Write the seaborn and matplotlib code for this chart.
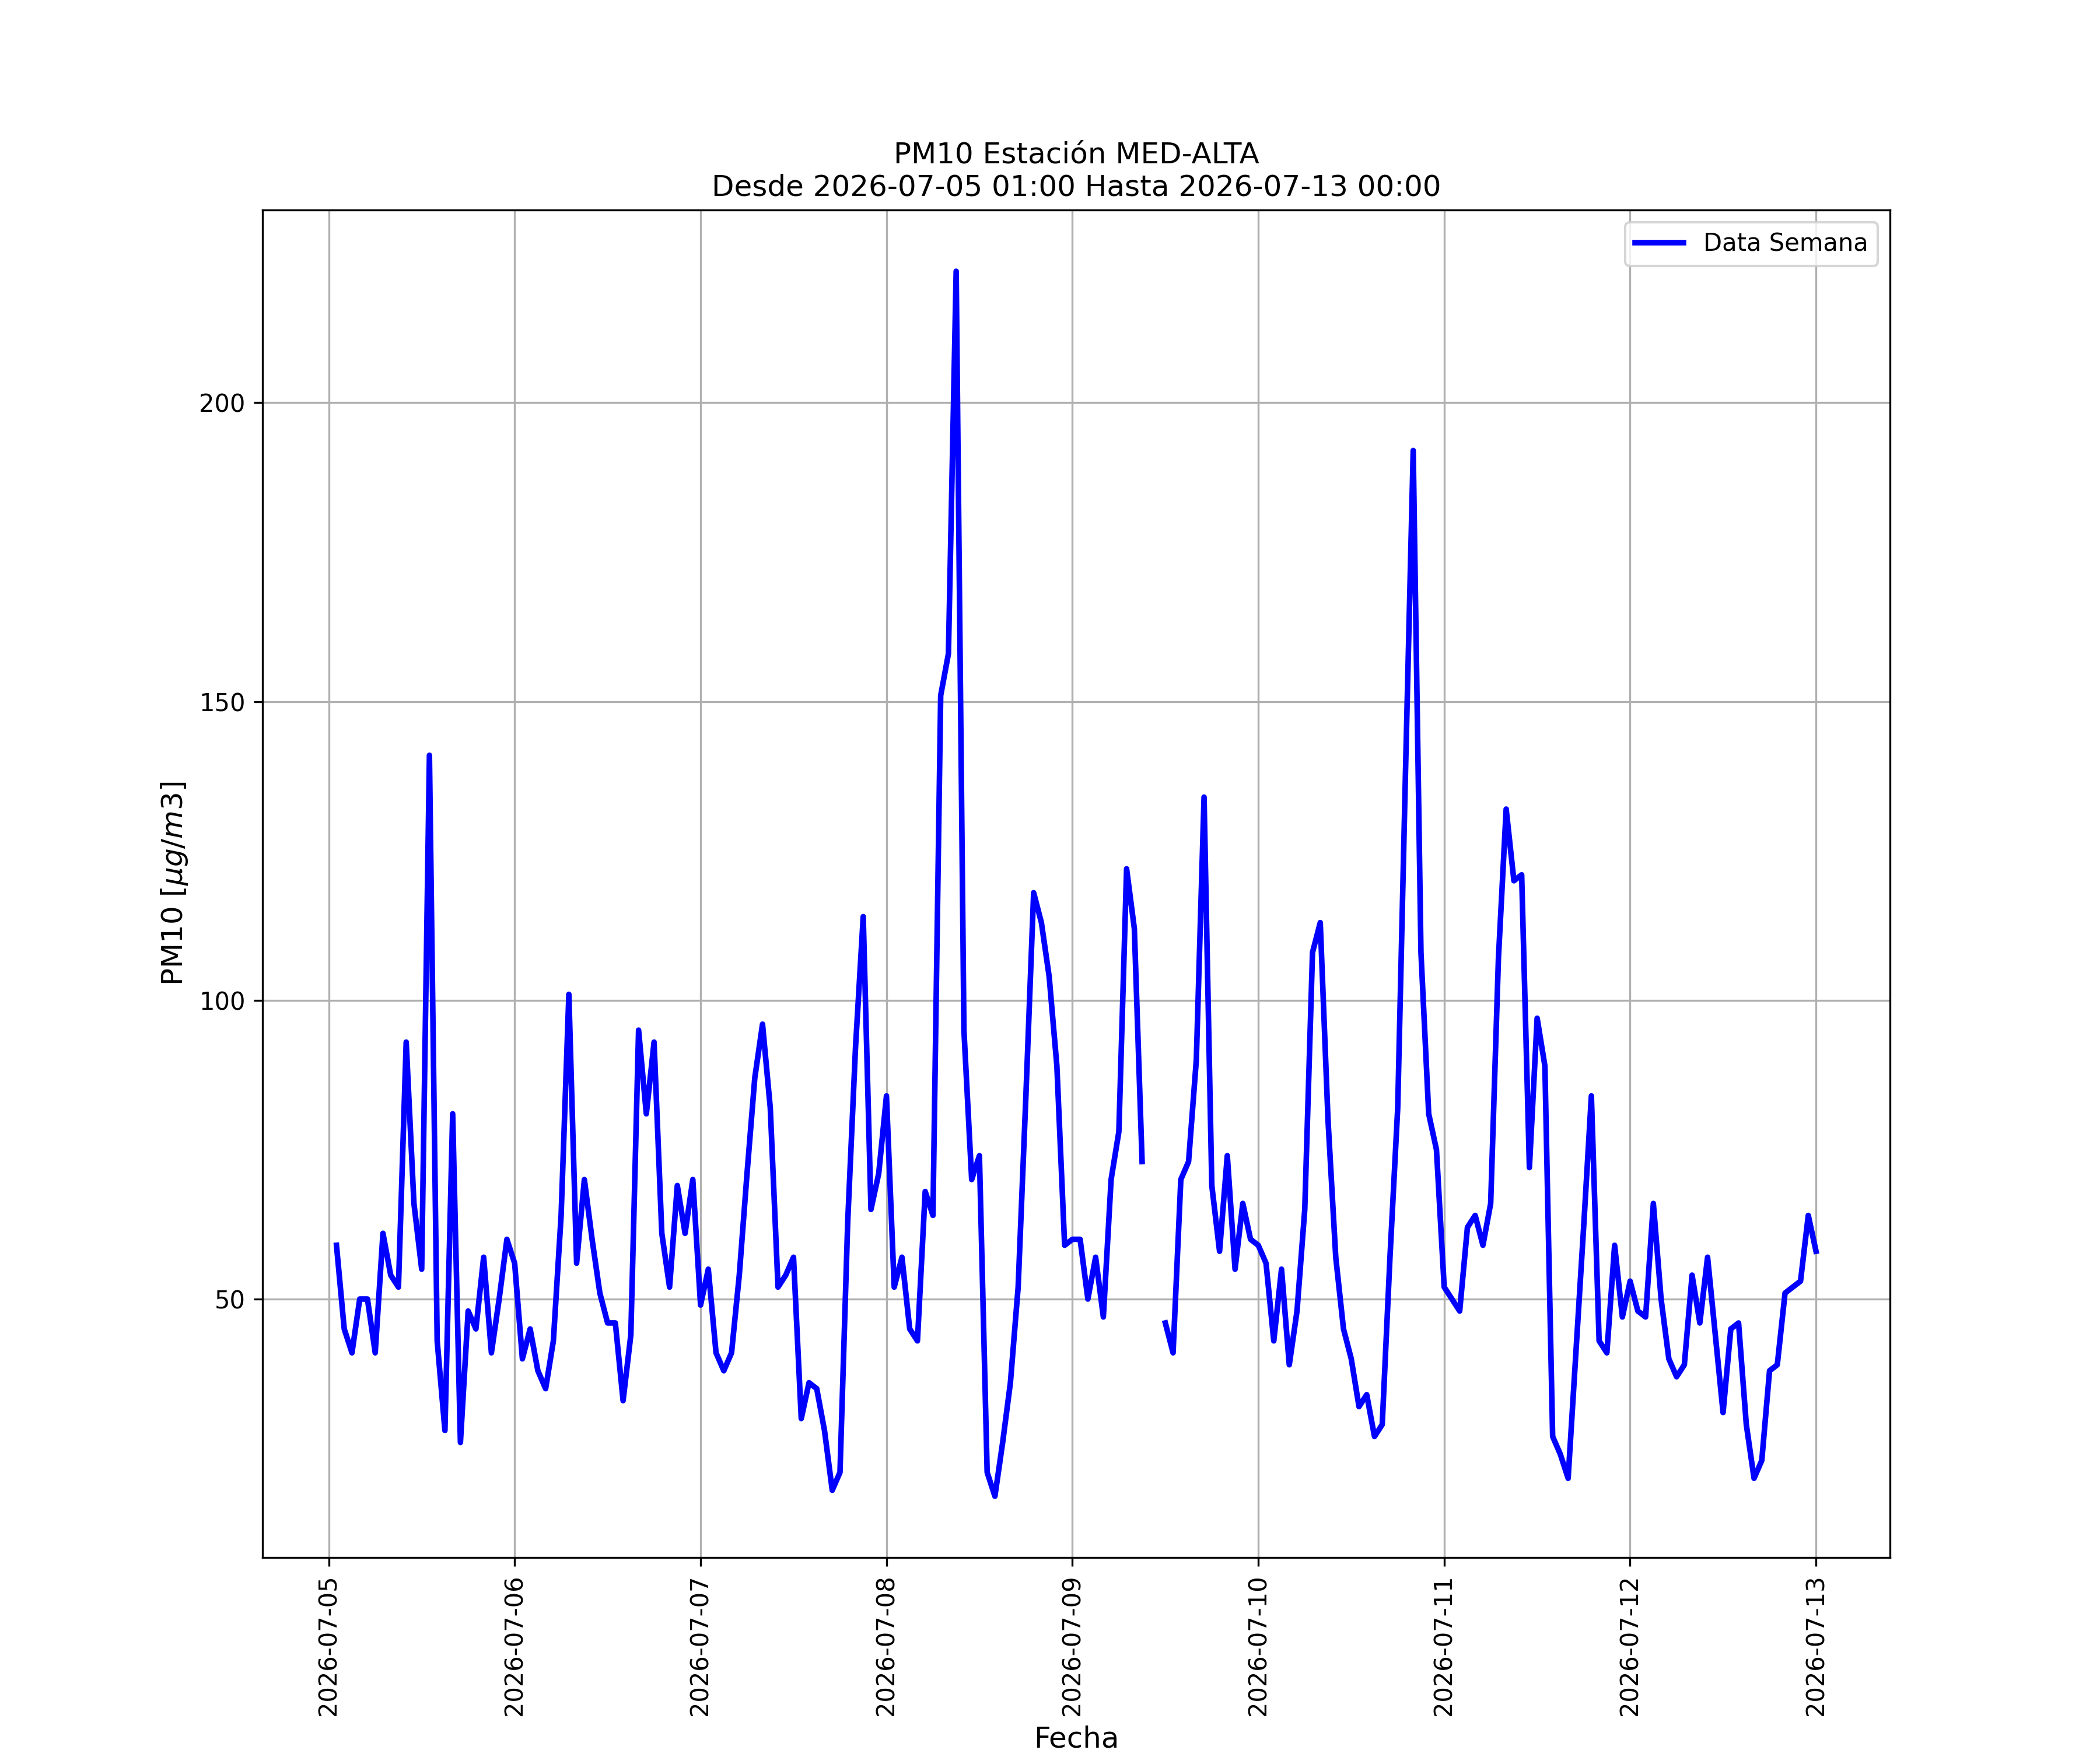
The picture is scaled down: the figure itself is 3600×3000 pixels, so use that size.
import numpy as np
import pandas as pd
import seaborn as sns
import matplotlib
matplotlib.use('Agg')
import matplotlib.pyplot as plt
import matplotlib.dates as mdates

# %% datos horarios PM10

inicio = '2026-07-05 01:00'
fin = '2026-07-13 00:00'

dia_05 = [59, 45, 41, 50, 50, 41, 61, 54, 52, 93, 66, 55, 141, 43, 28, 81, 26, 48, 45, 57, 41, 50, 60]
dia_06 = [56, 40, 45, 38, 35, 43, 64, 101, 56, 70, 60, 51, 46, 46, 33, 44, 95, 81, 93, 61, 52, 69, 61, 70]
dia_07 = [49, 55, 41, 38, 41, 54, 71, 87, 96, 82, 52, 54, 57, 30, 36, 35, 28, 18, 21, 63, 92, 114, 65, 71]
dia_08 = [84, 52, 57, 45, 43, 68, 64, 151, 158, 222, 95, 70, 74, 21, 17, 26, 36, 52, 84, 118, 113, 104, 89, 59]
dia_09 = [60, 60, 50, 57, 47, 70, 78, 122, 112, 73, np.nan, np.nan, 46, 41, 70, 73, 90, 134, 69, 58, 74, 55, 66, 60]
dia_10 = [59, 56, 43, 55, 39, 48, 65, 108, 113, 80, 57, 45, 40, 32, 34, 27, 29, 57, 82, 138, 192, 108, 81, 75]
dia_11 = [52, 50, 48, 62, 64, 59, 66, 107, 132, 120, 121, 72, 97, 89, 27, 24, 20, 41, 62, 84, 43, 41, 59, 47]
dia_12 = [53, 48, 47, 66, 50, 40, 37, 39, 54, 46, 57, 44, 31, 45, 46, 29, 20, 23, 38, 39, 51, 52, 53, 64]
dia_13 = [58]

pm10 = dia_05 + dia_06 + dia_07 + dia_08 + dia_09 + dia_10 + dia_11 + dia_12 + dia_13
fechas = pd.date_range(inicio, fin, freq='h')

df = pd.DataFrame({'Fecha': fechas, 'PM10': pm10})

# %% grafico

fig, ax = plt.subplots(figsize=(12, 10))

# se parte la serie en tramos para respetar el hueco de datos
tramo = df['PM10'].isna().cumsum()
primero = True
for _, sub in df[df['PM10'].notna()].groupby(tramo[df['PM10'].notna()]):
    sns.lineplot(data=sub, x='Fecha', y='PM10', color='blue', linewidth=2.3,
                 label='Data Semana' if primero else None, ax=ax)
    primero = False

ax.set_title('PM10 Estación MED-ALTA\nDesde ' + inicio + ' Hasta ' + fin, fontsize=12)
ax.set_xlabel('Fecha', fontsize=12)
ax.set_ylabel(r'PM10 [$\mu g/m3$]', fontsize=12)
ax.xaxis.set_major_locator(mdates.DayLocator())
ax.xaxis.set_major_formatter(mdates.DateFormatter('%Y-%m-%d'))
plt.setp(ax.get_xticklabels(), rotation=90)
ax.grid(True)
ax.legend(loc='upper right')

fig.savefig('out.png', dpi=300)
